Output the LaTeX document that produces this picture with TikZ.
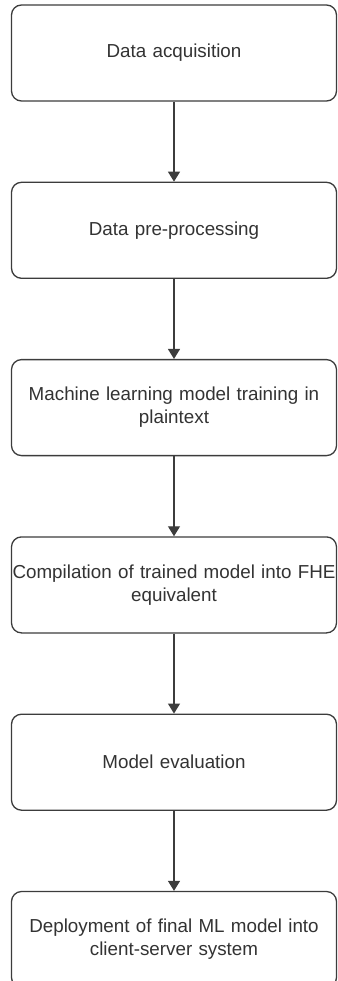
\documentclass[tikz,border=0pt]{standalone}
\usepackage{fontspec}
\setmainfont{Liberation Sans}
\usetikzlibrary{arrows.meta,positioning}
\definecolor{edgegray}{HTML}{3C3C3C}
\definecolor{textgray}{HTML}{333333}

\begin{document}
\begin{tikzpicture}[x=1pt, y=-1pt, node distance=80pt]
    \tikzstyle{stage} = [rectangle, draw=edgegray, line width=1.3pt, fill=white, minimum width=325pt, minimum height=96pt, rounded corners=10pt, inner xsep=0pt, text width=324pt, align=center, font=\fontsize{18.8pt}{23pt}\selectfont, text=textgray]
    \tikzstyle{line} = [draw=edgegray, line width=1.3pt, -{Triangle[length=10pt, width=12pt]}]

    \useasboundingbox (0,0) rectangle (337,981);

    % Data acquisition
    \node [stage] (acq) at (174,53) {Data acquisition};

    % Pre-processing
    \node [stage, below=of acq] (prep) {Data pre-processing};

    % Training
    \node [stage, below=of prep] (train) {Machine learning model training in\\plaintext};

    % Compilation
    \node [stage, below=of train] (compile) {Compilation of trained model into FHE\\equivalent};

    % Evaluation
    \node [stage, below=of compile] (eval) {Model evaluation};

    % Deployment
    \node [stage, below=of eval] (deploy) {Deployment of final ML model into\\client-server system};

    % Arrows
    \path [line] (acq) -- (prep);
    \path [line] (prep) -- (train);
    \path [line] (train) -- (compile);
    \path [line] (compile) -- (eval);
    \path [line] (eval) -- (deploy);

\end{tikzpicture}
\end{document}
